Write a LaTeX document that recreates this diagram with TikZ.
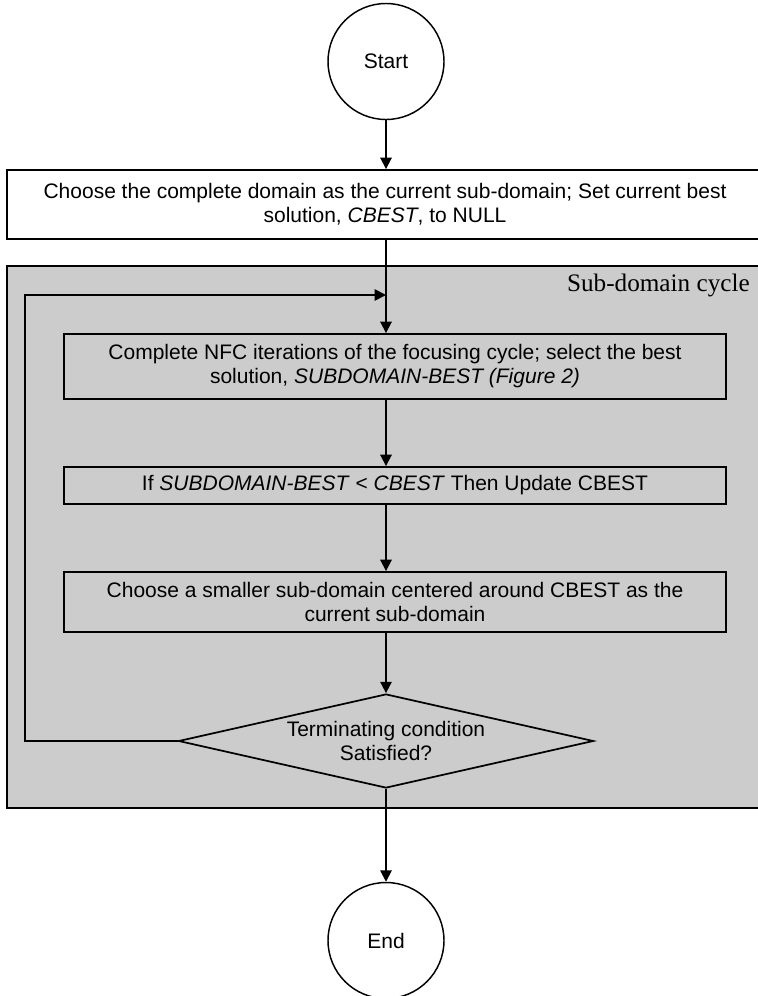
\documentclass[tikz,border=0pt]{standalone}
\usepackage{fontspec}
\setmainfont{Liberation Sans}
\newfontfamily\cyclefont{Liberation Serif}
\usetikzlibrary{shapes.geometric,arrows.meta}
\definecolor{cyclegray}{RGB}{204,204,204}
\tikzset{
  flowtext/.style={font=\fontsize{15.75}{18}\selectfont, align=center},
  terminal/.style={circle, draw, line width=1.1pt, fill=white, minimum size=87pt, inner sep=0pt, flowtext},
  process/.style={rectangle, draw, line width=1.4pt, fill=cyclegray, minimum width=496.5pt, inner sep=0pt, flowtext},
  decision/.style={diamond, draw, line width=1.3pt, fill=cyclegray, shape aspect=4.4, minimum width=311.25pt, minimum height=70.5pt, inner sep=0pt, flowtext},
  region/.style={rectangle, draw, line width=1.4pt, fill=cyclegray, minimum width=567pt, minimum height=406.5pt},
  flow/.style={line width=1.3pt, -{Triangle[length=8.5pt,width=8.5pt]}},
}

\begin{document}
\begin{tikzpicture}[x=0.75pt,y=0.75pt,yscale=-1,xscale=1]
\useasboundingbox (0,0) rectangle (757,996);

%Shape: Rectangle [sub-domain cycle]
\node[region] (cycle) at (385,537) {};
\node[font=\cyclefont\fontsize{18.9}{20}\selectfont, anchor=east, inner sep=0pt] (cyclelbl) at (750,285) {Sub-domain cycle};

%Flowchart: Terminal
\node[terminal] (start) at (386,61.5) {Start};
%Flowchart: Process
\node[process, fill=white, minimum width=567pt, minimum height=51.75pt] (init) at (385,204.5) {Choose the complete domain as the current sub-domain; Set current best\\solution, \textit{CBEST}, to NULL};
\node[process, minimum height=48.75pt] (focus) at (395,366.5) {Complete NFC iterations of the focusing cycle; select the best\\solution, \textit{SUBDOMAIN-BEST (Figure 2)}};
\node[process, minimum height=27.75pt] (update) at (395,485.5) {If \textit{SUBDOMAIN-BEST} < \textit{CBEST} Then Update CBEST};
\node[process, minimum height=45pt] (shrink) at (395,602) {Choose a smaller sub-domain centered around CBEST as the\\current sub-domain};
%Flowchart: Decision
\node[decision] (stop) at (386,741) {Terminating condition\\Satisfied?};
%Flowchart: Terminal
\node[terminal] (finish) at (386,940.5) {End};

%Straight Lines
\coordinate (back) at (25,295);
\draw[flow] (start.south) -- (start |- init.north);
\draw[flow] (start |- init.south) -- (start |- focus.north);
\draw[flow] (stop.west) -| (back) -- (start |- back);
\draw[flow] (start |- focus.south) -- (start |- update.north);
\draw[flow] (start |- update.south) -- (start |- shrink.north);
\draw[flow] (start |- shrink.south) -- (stop.north);
\draw[flow] (stop.south) -- (finish.north);

\end{tikzpicture}
\end{document}
